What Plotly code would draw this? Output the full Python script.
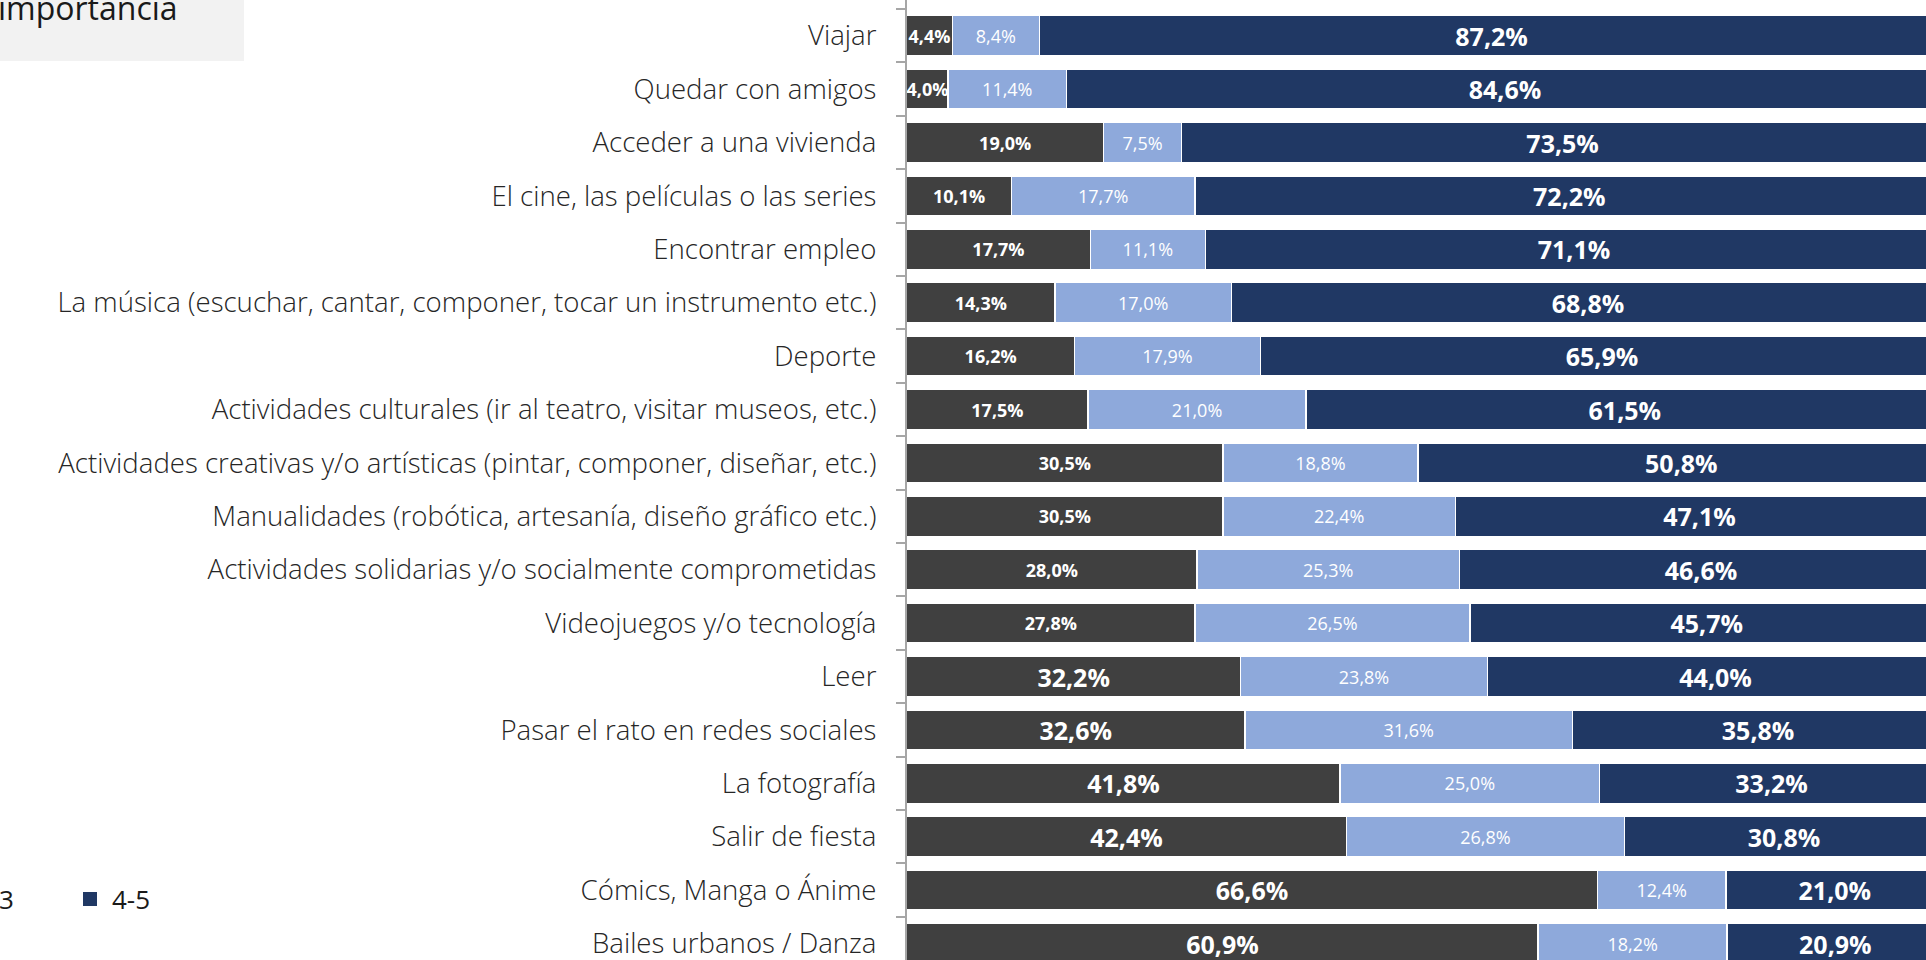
import plotly.graph_objects as go

# Porcentaje de jóvenes según la importancia que dan a cada actividad
categories = [
    "Viajar",
    "Quedar con amigos",
    "Acceder a una vivienda",
    "El cine, las películas o las series",
    "Encontrar empleo",
    "La música (escuchar, cantar, componer, tocar un instrumento etc.)",
    "Deporte",
    "Actividades culturales (ir al teatro, visitar museos, etc.)",
    "Actividades creativas y/o artísticas (pintar, componer, diseñar, etc.)",
    "Manualidades (robótica, artesanía, diseño gráfico etc.)",
    "Actividades solidarias y/o socialmente comprometidas",
    "Videojuegos y/o tecnología",
    "Leer",
    "Pasar el rato en redes sociales",
    "La fotografía",
    "Salir de fiesta",
    "Cómics, Manga o Ánime",
    "Bailes urbanos / Danza",
]

low = [4.4, 4.0, 19.0, 10.1, 17.7, 14.3, 16.2, 17.5, 30.5, 30.5, 28.0, 27.8,
       32.2, 32.6, 41.8, 42.4, 66.6, 60.9]   # 1-2
mid = [8.4, 11.4, 7.5, 17.7, 11.1, 17.0, 17.9, 21.0, 18.8, 22.4, 25.3, 26.5,
       23.8, 31.6, 25.0, 26.8, 12.4, 18.2]   # 3
high = [87.2, 84.6, 73.5, 72.2, 71.1, 68.8, 65.9, 61.5, 50.8, 47.1, 46.6, 45.7,
        44.0, 35.8, 33.2, 30.8, 21.0, 20.9]  # 4-5

series_names = ["1-2", "3", "4-5"]
colors = ["#404040", "#8EA9DB", "#203864"]

FONT = "Open Sans"
W, H = 1926, 960
AXIS_X = 906.7      # y-axis line, px
PX_PER_PCT = 10.37
ROW0, ROW_STEP = 35.7, 53.4   # centre of first row, row pitch (px)


def pct(v):
    return f"{v:.1f}".replace(".", ",") + "%"


# dark segment labels are bigger once the 1-2 share passes 32%
low_sizes = [25 if v > 32 else 18 for v in low]

fig = go.Figure()
for name, vals, color in zip(series_names, [low, mid, high], colors):
    if name == "1-2":
        font = dict(family=FONT, size=low_sizes, color="white", weight="bold")
    elif name == "3":
        font = dict(family=FONT, size=18, color="white")
    else:
        font = dict(family=FONT, size=25, color="white", weight="bold")
    fig.add_trace(go.Bar(
        y=categories,
        x=vals,
        name=name,
        orientation="h",
        marker=dict(color=color, line=dict(color="white", width=1.5)),
        text=[pct(v) for v in vals],
        textposition="inside",
        insidetextanchor="middle",
        textangle=0,
        constraintext="none",
        insidetextfont=font,
        showlegend=False,
    ))

fig.update_layout(
    width=W,
    height=H,
    barmode="stack",
    bargap=0.25,
    plot_bgcolor="white",
    paper_bgcolor="white",
    margin=dict(l=0, r=0, t=0, b=0),
    font=dict(family=FONT, color="#262626"),
    xaxis=dict(
        domain=[AXIS_X / W, 1],
        range=[0, (W - AXIS_X) / PX_PER_PCT],
        visible=False,
        fixedrange=True,
    ),
    yaxis=dict(
        range=[(H - ROW0) / ROW_STEP, -ROW0 / ROW_STEP],
        automargin=False,
        showline=True,
        linecolor="#A6A6A6",
        linewidth=1.5,
        ticks="outside",
        ticklen=9,
        tickcolor="#A6A6A6",
        tickwidth=1.5,
        tickson="boundaries",
        ticklabelstandoff=23,
        tickfont=dict(family=FONT, size=27.6, color="#262626", weight=300),
        showgrid=False,
        zeroline=False,
    ),
    shapes=[
        # title box (cropped)
        dict(type="rect", xref="paper", yref="paper",
             x0=0, x1=244 / W, y0=1 - 61 / H, y1=1,
             fillcolor="#F2F2F2", line=dict(width=0), layer="below"),
        # legend marker for 4-5
        dict(type="rect", xref="paper", yref="paper",
             x0=83 / W, x1=97 / W, y0=1 - 906 / H, y1=1 - 892 / H,
             fillcolor=colors[2], line=dict(width=0)),
    ],
    annotations=[
        dict(text="importancia", xref="paper", yref="paper",
             x=-4 / W, y=1 - 7 / H, xanchor="left", yanchor="middle",
             showarrow=False, font=dict(family=FONT, size=32, color="#1a1a1a")),
        dict(text="3", xref="paper", yref="paper",
             x=16 / W, y=1 - 899 / H, xanchor="right", yanchor="middle",
             showarrow=False, font=dict(family=FONT, size=26, color="#1a1a1a")),
        dict(text="4-5", xref="paper", yref="paper",
             x=110 / W, y=1 - 899 / H, xanchor="left", yanchor="middle",
             showarrow=False, font=dict(family=FONT, size=26, color="#1a1a1a")),
    ],
)

# drop the default 8px page margin so the figure sits flush in the window
fig.write_html(
    "out.html",
    config={"displayModeBar": False},
    post_script="document.body.style.margin = '0';",
)
